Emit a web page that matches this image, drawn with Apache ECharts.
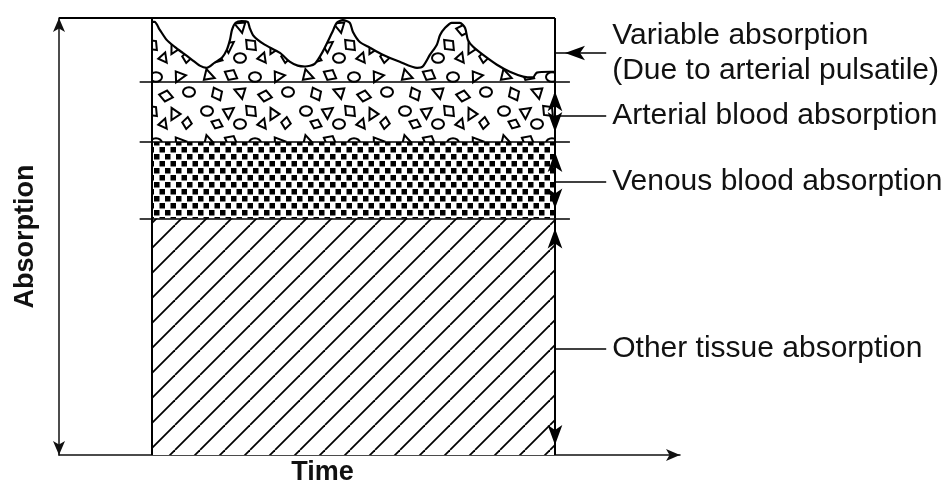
<!DOCTYPE html>
<html>
<head>
<meta charset="utf-8">
<title>Absorption layers</title>
<script src="https://cdn.jsdelivr.net/npm/echarts@6/dist/echarts.min.js"></script>
<style>
  html, body { margin: 0; padding: 0; background: #fff; }
  #chart { width: 945px; height: 491px; }
</style>
</head>
<body>
<div id="chart"></div>
<script>
// layers, bottom to top
const layerNames = [
  'Other tissue absorption',
  'Venous blood absorption',
  'Arterial blood absorption',
  'Variable absorption\n(Due to arterial pulsatile)'
];
// top of each steady layer (0 = bottom of box, 100 = top of box)
const layerTops = [54.1, 71.6, 85.5];
const timeSpan = [0, 100];

// pulsatile top edge of the arterial layer
const pulseTime = [0, 0.7, 2.0, 3.7, 5.7, 7.7, 9.9, 11.9, 13.6, 15.6, 17.4, 18.6, 19.4, 19.9, 20.8, 22.3,
  23.8, 24.3, 25.1, 26.3, 28.0, 31.8, 34.2, 36.2, 38.0, 40.4, 42.4, 44.7, 45.9, 47.4, 49.1, 49.9,
  51.6, 54.1, 57.3, 61.5, 65.8, 67.2, 69.0, 70.7, 71.5, 72.7, 74.4, 76.4, 77.7, 78.4, 79.7, 82.1,
  85.6, 88.8, 92.1, 94.5, 95.5, 98.8, 100];
const pulseTop = [99.1, 99.1, 97.3, 95.0, 93.4, 92.0, 90.5, 89.1, 88.6, 89.8, 90.9, 92.7, 95.0, 97.3, 98.9, 99.3,
  99.1, 97.7, 96.1, 95.0, 93.9, 92.0, 90.0, 89.1, 88.9, 89.5, 92.3, 96.6, 98.9, 99.5, 98.9, 96.8,
  94.5, 93.2, 91.6, 90.0, 88.6, 88.9, 91.6, 93.9, 96.1, 97.7, 98.9, 98.9, 97.7, 95.0, 93.4, 91.6,
  89.3, 87.7, 86.6, 86.4, 87.5, 87.7, 87.7];

// fill textures
function hatchTile() {
  const c = document.createElement('canvas');
  c.width = c.height = 25;
  const g = c.getContext('2d');
  g.fillStyle = '#fff'; g.fillRect(0, 0, 25, 25);
  g.strokeStyle = '#000'; g.lineWidth = 1.8;
  [-25, 0, 25].forEach(k => { g.beginPath(); g.moveTo(k, 25); g.lineTo(k + 25, 0); g.stroke(); });
  return c;
}
function dotTile() {
  const c = document.createElement('canvas');
  c.width = 11; c.height = 14;
  const g = c.getContext('2d');
  g.fillStyle = '#fff'; g.fillRect(0, 0, 11, 14);
  g.fillStyle = '#000';
  g.fillRect(0, 0, 5.5, 5.5);
  g.fillRect(5.5, 7, 5.5, 5.5);
  return c;
}
function shapeTile() {
  const c = document.createElement('canvas');
  c.width = 99; c.height = 66;
  const g = c.getContext('2d');
  g.fillStyle = '#fff'; g.fillRect(0, 0, 99, 66);
  g.strokeStyle = '#000'; g.lineWidth = 2;
  const shapes = [
    [10, 10, 3, 7, 0.3], [33, 9, 4, 7, 0.5], [57, 11, 0, 6, 0], [80, 10, 3, 7, 2.0],
    [19, 28, 4, 7, 1.1], [43, 26, 3, 7, 3.5], [67, 30, 4, 7, 0.2], [90, 26, 0, 6, 0],
    [9, 45, 0, 6, 0], [30, 46, 3, 7, 1.5], [53, 45, 4, 7, 0.8], [76, 48, 3, 7, 4.2],
    [19, 58, 4, 6, 0.4], [42, 58, 0, 6, 0], [64, 58, 3, 6, 0.9], [88, 57, 4, 6, 1.7]
  ];
  shapes.forEach(([x, y, n, r, rot]) => {
    g.beginPath();
    if (n === 0) {
      g.ellipse(x, y, r, r * 0.8, 0, 0, Math.PI * 2);
    } else {
      for (let i = 0; i < n; i++) {
        const a = rot + i * Math.PI * 2 / n;
        const rr = r * (i % 2 ? 0.8 : 1);
        const px = x + rr * Math.cos(a), py = y + rr * Math.sin(a);
        i ? g.lineTo(px, py) : g.moveTo(px, py);
      }
      g.closePath();
    }
    g.fillStyle = '#fff'; g.fill(); g.stroke();
  });
  return c;
}

const shapeFill = { image: shapeTile(), repeat: 'repeat' };
const font = 'Liberation Sans, Arial, sans-serif';

const flat = v => timeSpan.map(t => [t, v]);
const seg = (a, b, extra) => [Object.assign({ coord: a }, extra || {}), { coord: b }];

// where the label pointers meet the right edge
const pointerLevel = [24.3, 62.5, 77.7, 92.0];
const pointerEnd = 112.7;

const labelStyle = { show: true, position: 'end', distance: 6, color: '#111', fontSize: 30, fontFamily: font };

const frameLines = [
  seg([-23, 100], [100, 100]),
  seg([0, 0], [0, 100]),
  seg([100, 100], [100, layerTops[2]]),
  ...layerTops.map(t => seg([-3, t], [103.7, t], { lineStyle: { width: 1.5 } })),
  [{ coord: [100, layerTops[2]], symbol: 'arrow' }, { coord: [100, layerTops[1]], symbol: 'arrow' }],
  [{ coord: [100, layerTops[1]], symbol: 'arrow' }, { coord: [100, layerTops[0]], symbol: 'arrow' }],
  [{ coord: [100, layerTops[0]], symbol: 'arrow' }, { coord: [100, 0], symbol: 'arrow' }],
  [{ coord: [100, pointerLevel[3]], symbol: 'arrow', lineStyle: { width: 1.5 },
     label: Object.assign({}, labelStyle, { formatter: layerNames[3], lineHeight: 35, padding: [0, 0, 16, 0] }) },
   { coord: [pointerEnd, pointerLevel[3]] }],
  ...[0, 1, 2].map(i => seg([100, pointerLevel[i]], [pointerEnd, pointerLevel[i]], {
    lineStyle: { width: 1.5 },
    label: Object.assign({}, labelStyle, { formatter: layerNames[i] })
  }))
];

const chart = echarts.init(document.getElementById('chart'));
chart.setOption({
  animation: false,
  backgroundColor: '#fff',
  grid: { left: 59, right: 265, top: 18, bottom: 33 },
  xAxis: {
    type: 'value', min: -23, max: 131,
    name: 'Time', nameLocation: 'middle', nameGap: 4,
    nameTextStyle: { fontSize: 27, fontWeight: 'bold', color: '#111', fontFamily: font, padding: [0, 94, 0, 0], verticalAlign: 'top' },
    axisLine: { show: true, symbol: ['none', 'arrow'], symbolSize: [9, 14], lineStyle: { color: '#111', width: 1.5 } },
    axisTick: { show: false }, axisLabel: { show: false }, splitLine: { show: false }
  },
  yAxis: {
    type: 'value', min: 0, max: 100,
    name: 'Absorption', nameLocation: 'middle', nameRotate: 90, nameGap: 20,
    nameTextStyle: { fontSize: 27, fontWeight: 'bold', color: '#111', fontFamily: font },
    axisLine: { show: true, onZero: false, symbol: ['arrow', 'arrow'], symbolSize: [9, 14], lineStyle: { color: '#111', width: 1.5 } },
    axisTick: { show: false }, axisLabel: { show: false }, splitLine: { show: false }
  },
  series: [
    {
      name: layerNames[3], type: 'line', z: 2, smooth: 0.25, symbol: 'none', silent: true,
      data: pulseTime.map((t, i) => [t, pulseTop[i]]),
      lineStyle: { color: '#000', width: 2.2 },
      areaStyle: { color: shapeFill, opacity: 1 }
    },
    {
      name: layerNames[2], type: 'line', z: 3, symbol: 'none', silent: true,
      data: flat(layerTops[2]),
      lineStyle: { width: 0 },
      areaStyle: { color: shapeFill, opacity: 1 }
    },
    {
      name: layerNames[1], type: 'line', z: 4, symbol: 'none', silent: true,
      data: flat(layerTops[1]),
      lineStyle: { width: 0 },
      areaStyle: { color: { image: dotTile(), repeat: 'repeat' }, opacity: 1 }
    },
    {
      name: layerNames[0], type: 'line', z: 5, symbol: 'none', silent: true,
      data: flat(layerTops[0]),
      lineStyle: { width: 0 },
      areaStyle: { color: { image: hatchTile(), repeat: 'repeat' }, opacity: 1 },
      markLine: {
        silent: true, animation: false, z: 10,
        symbol: ['none', 'none'], symbolSize: [11, 20], symbolOffset: [[0, 10], [0, 10]],
        lineStyle: { color: '#000', width: 2, type: 'solid' },
        label: { show: false },
        data: frameLines
      }
    }
  ]
});
</script>
</body>
</html>
